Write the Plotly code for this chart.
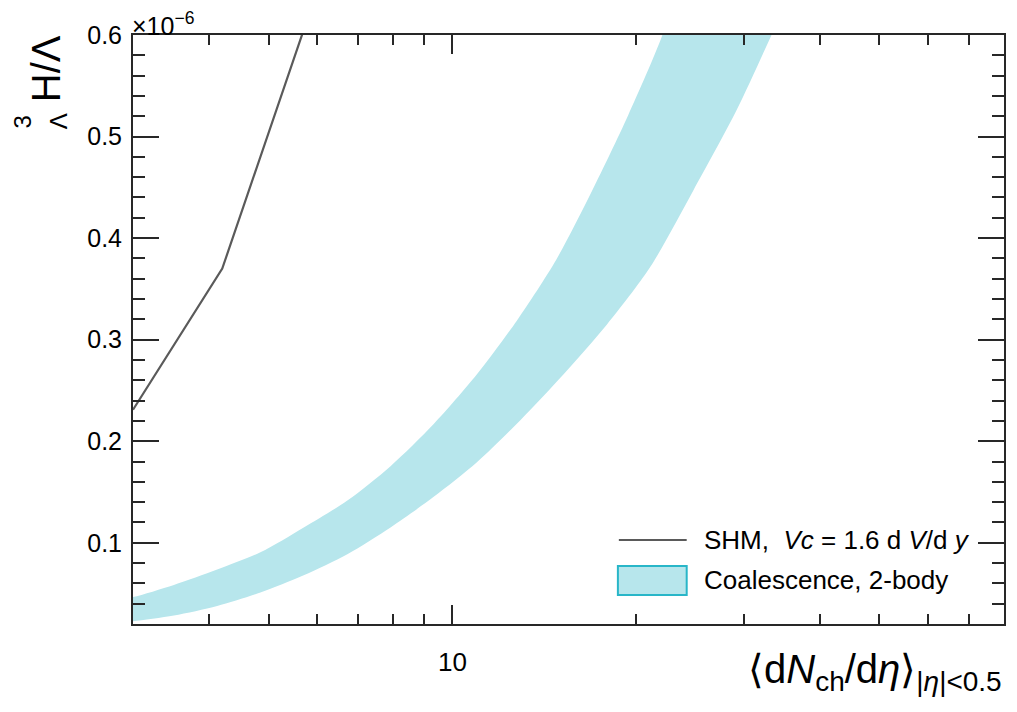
import math
import plotly.graph_objects as go

# ---- data (y values in units of 1e-6) ----
shm_x = [3.0, 4.2, 6.0]
shm_y = [0.231, 0.370, 0.643]

coal_upper_x = [2.8, 3.0, 3.50, 4.12, 4.85, 5.71, 6.73, 7.92, 9.32, 10.97, 12.75, 14.8, 16.94, 19.4, 22.07, 23.5]
coal_upper_y = [0.043, 0.0465, 0.0585, 0.0736, 0.0906, 0.1151, 0.1415, 0.1754, 0.2169, 0.2659, 0.3187, 0.3790, 0.4469, 0.521, 0.600, 0.654]

coal_lower_x = [2.8, 3.0, 3.50, 4.12, 4.85, 5.71, 6.73, 7.92, 9.32, 10.97, 12.92, 15.21, 17.91, 21.08, 24.8, 29.2, 33.3, 36.0]
coal_lower_y = [0.021, 0.0227, 0.0284, 0.0378, 0.0510, 0.0680, 0.0887, 0.1151, 0.1452, 0.1792, 0.2207, 0.2659, 0.3149, 0.3715, 0.4469, 0.5261, 0.600, 0.645]

y_ticks = [0.1, 0.2, 0.3, 0.4, 0.5, 0.6]
y_ticklabels = ["0.1", "0.2", "0.3", "0.4", "0.5", "0.6"]
x_major = [10]
x_major_labels = ["10"]
x_minor = [3, 4, 5, 6, 7, 8, 9, 20, 30, 40, 50, 60, 70, 80]

FONT = "Liberation Sans, Arial, Helvetica, sans-serif"
BAND = "rgb(183,230,236)"
BAND_EDGE = "rgb(40,182,200)"
LINE = "rgb(90,90,90)"
AXC = "rgb(40,40,40)"

fig = go.Figure()
fig.add_trace(go.Scatter(
    x=coal_upper_x + coal_lower_x[::-1],
    y=coal_upper_y + coal_lower_y[::-1],
    fill="toself", fillcolor=BAND, line=dict(width=0, color=BAND, shape="spline", smoothing=0.8),
    mode="lines", hoverinfo="skip", showlegend=False))
fig.add_trace(go.Scatter(
    x=shm_x, y=shm_y, mode="lines",
    line=dict(color=LINE, width=2.2), showlegend=False))

fig.update_layout(
    width=1017, height=712,
    margin=dict(l=133, r=11, t=35, b=88),
    paper_bgcolor="white", plot_bgcolor="white",
    font=dict(family=FONT, size=24, color="black"),
    showlegend=False,
    xaxis=dict(
        type="log", range=[math.log10(3), math.log10(80)],
        showgrid=False, zeroline=False,
        showline=True, linecolor=AXC, linewidth=2, mirror="allticks",
        ticks="inside", ticklen=19, tickwidth=1.5, tickcolor=AXC,
        tickmode="array", tickvals=x_major, ticktext=x_major_labels,
        ticklabelstandoff=14,
        tickfont=dict(family=FONT, size=26, color="black"),
        minor=dict(ticks="inside", ticklen=10, tickwidth=1.5, tickcolor=AXC,
                   tickmode="array", tickvals=x_minor, showgrid=False),
    ),
    yaxis=dict(
        range=[0.02, 0.6],
        showgrid=False, zeroline=False,
        showline=True, linecolor=AXC, linewidth=2, mirror="allticks",
        ticks="inside", ticklen=26, tickwidth=1.5, tickcolor=AXC,
        tickmode="array", tickvals=y_ticks, ticktext=y_ticklabels,
        ticklabelstandoff=4,
        tickfont=dict(family=FONT, size=25, color="black"),
        minor=dict(ticks="inside", ticklen=12, tickwidth=1.5, tickcolor=AXC,
                   dtick=0.02, tick0=0, showgrid=False),
    ),
)

# exponent label
fig.add_annotation(xref="paper", yref="paper", x=0.0, y=1.0, xanchor="left", yanchor="bottom",
                   text="×10<sup>−6</sup>", showarrow=False,
                   font=dict(family=FONT, size=25, color="black"), yshift=-7, xshift=-3)

# x title
fig.add_annotation(xref="paper", yref="paper", x=1.0, y=-0.035, xanchor="right", yanchor="top",
                   text="⟨d<i>N</i><sub>ch</sub>/d<i>η</i>⟩<sub>|<i>η</i>|&lt;0.5</sub>",
                   showarrow=False, font=dict(family=FONT, size=40, color="black"))

# y title (hypertriton notation with stacked prescripts)
fig.add_annotation(xref="paper", yref="paper", x=-0.1002, y=0.9431, xanchor="center", yanchor="middle",
                   text="H/Λ", textangle=-90, showarrow=False,
                   font=dict(family=FONT, size=40, color="black"))
fig.add_annotation(xref="paper", yref="paper", x=-0.1271, y=0.852, xanchor="center", yanchor="middle",
                   text="3", textangle=-90, showarrow=False,
                   font=dict(family=FONT, size=24, color="black"))
fig.add_annotation(xref="paper", yref="paper", x=-0.0848, y=0.854, xanchor="center", yanchor="middle",
                   text="Λ", textangle=-90, showarrow=False,
                   font=dict(family=FONT, size=24, color="black"))

# legend (drawn manually)
fig.add_shape(type="line", xref="paper", yref="paper", x0=0.5578, x1=0.6357, y0=0.1426, y1=0.1426,
              line=dict(color=LINE, width=2.2))
fig.add_shape(type="rect", xref="paper", yref="paper", x0=0.5567, x1=0.6357, y0=0.0492, y1=0.0985,
              fillcolor=BAND, line=dict(color=BAND_EDGE, width=2))
fig.add_annotation(xref="paper", yref="paper", x=0.6529, y=0.1426, xanchor="left", yanchor="middle",
                   text="SHM,  <i>Vc</i> = 1.6 d <i>V</i>/d <i>y</i>", showarrow=False,
                   font=dict(family=FONT, size=26, color="black"))
fig.add_annotation(xref="paper", yref="paper", x=0.6529, y=0.0747, xanchor="left", yanchor="middle",
                   text="Coalescence, 2-body", showarrow=False,
                   font=dict(family=FONT, size=26, color="black"))

fig.write_html("out.html")
